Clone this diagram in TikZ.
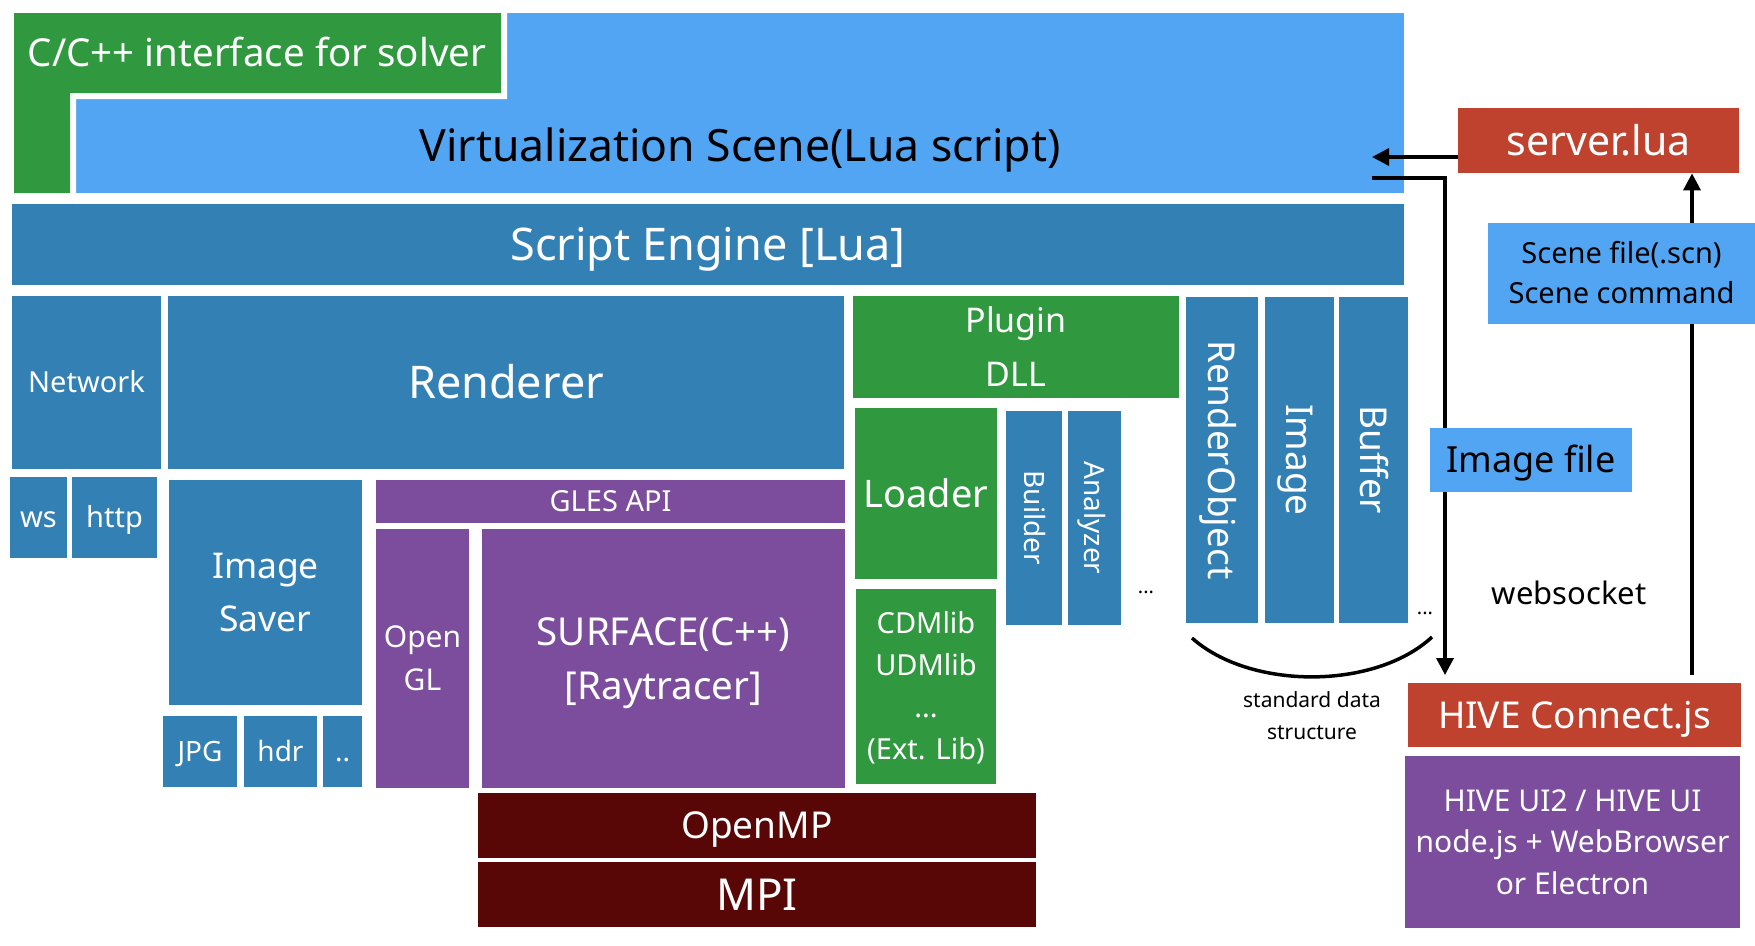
\documentclass[tikz,border=0pt]{standalone}
\usepackage{fontspec}
\setmainfont{Noto Sans}
\usetikzlibrary{arrows.meta}

\definecolor{lblue}{RGB}{82,165,242}
\definecolor{sblue}{RGB}{51,128,181}
\definecolor{lgreen}{RGB}{48,152,62}
\definecolor{lpurple}{RGB}{123,77,156}
\definecolor{dred}{RGB}{88,6,6}
\definecolor{rust}{RGB}{190,66,46}

\tikzset{every picture/.style={line width=0.75pt}}
\tikzset{
  blk/.style={inner sep=0pt, align=center, text=white, text depth=-4pt},
  fs/.style 2 args={font=\fontsize{#1}{#2}\selectfont, text height={0.714*#1pt}},
  fsm/.style n args={3}{font=\fontsize{#1}{#2}\selectfont, text height={0.714*#1pt+(#3-1)*#2pt}},
  arr/.style={line width=3.5pt, -{Triangle[length=17pt,width=17pt]}},
}

\begin{document}
\begin{tikzpicture}[x=1pt,y=1pt,yscale=-1,xscale=1]
\useasboundingbox (0,0) rectangle (1755,945);

%Shape: Rectangle [Virtualization Scene]
\node [blk, fill=lblue, minimum width=1392pt, minimum height=180pt] (vscene) at (708,103) {};
%Shape: L [C/C++ interface]
\fill [white] (8,7) -- (507,7) -- (507,99) -- (76,99) -- (76,193) -- (8,193) -- cycle;
\fill [lgreen] (14,13) -- (501,13) -- (501,93) -- (70,93) -- (70,193) -- (14,193) -- cycle;
% Text Node
\node [blk, fs={38.5}{46}] (cif) at (257,53) {C/C++ interface for solver};
% Text Node
\node [blk, text=black, fs={44.5}{53}] (vtext) at (740,146) {Virtualization Scene(Lua script)};

%Shape: Rectangle [Script Engine]
\node [blk, fill=sblue, minimum width=1392pt, minimum height=81pt, fs={45}{54}] (engine) at (708,244.5) {Script Engine [Lua]};

%Shape: Rectangle [Network]
\node [blk, fill=sblue, minimum width=149pt, minimum height=173pt, fs={29}{35}] (net) at (86.5,382.5) {Network};
\node [blk, fill=sblue, minimum width=57pt, minimum height=81pt, fs={29}{35}] (ws) at (38.5,517.5) {ws};
\node [blk, fill=sblue, minimum width=85pt, minimum height=81pt, fs={29}{35}] (http) at (114.5,517.5) {http};

%Shape: Rectangle [Renderer]
\node [blk, fill=sblue, minimum width=676pt, minimum height=173pt, fs={45}{54}] (rend) at (506,382.5) {Renderer};

%Shape: Rectangle [Image Saver]
\node [blk, fill=sblue, minimum width=193pt, minimum height=225pt, fsm={35.5}{53}{2}] (isaver) at (265.5,592.5) {Image\\Saver};
\node [blk, fill=sblue, minimum width=74pt, minimum height=71pt, fs={28}{34}] (jpg) at (200,751.5) {JPG};
\node [blk, fill=sblue, minimum width=73pt, minimum height=71pt, fs={28}{34}] (hdr) at (280.5,751.5) {hdr};
\node [blk, fill=sblue, minimum width=39pt, minimum height=71pt, fs={28}{34}] (fmore) at (342.5,751.5) {..};

%Shape: Rectangle [GLES]
\node [blk, fill=lpurple, minimum width=469pt, minimum height=43pt, fs={29}{34}] (gles) at (610.5,501.5) {GLES API};
\node [blk, fill=lpurple, minimum width=93pt, minimum height=259pt, fsm={30}{43}{2}] (ogl) at (422.5,658.5) {Open\\GL};
\node [blk, fill=lpurple, minimum width=363pt, minimum height=259pt, fsm={38.5}{54}{2}] (surf) at (663.5,658.5) {SURFACE(C++)\\{[}Raytracer{]}};

%Shape: Rectangle [Parallel]
\node [blk, fill=dred, minimum width=558pt, minimum height=65pt, fs={37}{44}] (omp) at (757,825.5) {OpenMP};
\node [blk, fill=dred, minimum width=558pt, minimum height=65pt, fs={44}{52}] (mpi) at (757,894.5) {MPI};

%Shape: Rectangle [Plugin]
\node [blk, fill=lgreen, minimum width=326pt, minimum height=102pt, fsm={34}{54}{2}] (plug) at (1016,347) {Plugin\\DLL};
\node [blk, fill=lgreen, minimum width=142pt, minimum height=171pt, fs={38}{46}] (load) at (926,493.5) {Loader};
\node [blk, fill=lgreen, minimum width=140pt, minimum height=195pt, fsm={29}{42}{4}] (extlib) at (926,686.5) {CDMlib\\UDMlib\\...\\(Ext. Lib)};
\node [blk, fill=sblue, minimum width=56pt, minimum height=214pt] (build) at (1034,518) {};
\node [blk, rotate=-90, fs={28}{33}] (buildt) at (build.center) {Builder};
\node [blk, fill=sblue, minimum width=53pt, minimum height=214pt] (anlz) at (1094.5,518) {};
\node [blk, rotate=-90, fs={28}{33}] (anlzt) at (anlz.center) {Analyzer};
\node [anchor=base, inner sep=0pt, font=\fontsize{20}{24}\selectfont] (dots1) at (1146,593) {...};

%Shape: Rectangle [Data structure]
\node [blk, fill=sblue, minimum width=72pt, minimum height=326pt] (robj) at (1222,460) {};
\node [blk, rotate=-90, fs={37}{44}] (robjt) at (robj.center) {RenderObject};
\node [blk, fill=sblue, minimum width=69pt, minimum height=326pt] (img) at (1299.5,460) {};
\node [blk, rotate=-90, fs={37}{44}] (imgt) at (img.center) {Image};
\node [blk, fill=sblue, minimum width=69pt, minimum height=326pt] (buf) at (1373.5,460) {};
\node [blk, rotate=-90, fs={37}{44}] (buft) at (buf.center) {Buffer};
\node [anchor=base, inner sep=0pt, font=\fontsize{20}{24}\selectfont] (dots2) at (1425,614) {...};
%Curve
\draw [line width=3.5pt] (1192,638) .. controls (1250,690) and (1375,690) .. (1432,637);
% Text Node
\node [blk, text=black, fsm={21}{32}{2}] (std) at (1312,716) {standard data\\structure};

%Shape: Rectangle [server.lua]
\node [blk, fill=rust, minimum width=281pt, minimum height=65pt, fs={41}{48}] (srv) at (1598.5,140.5) {server.lua};
\node [blk, fill=rust, minimum width=333pt, minimum height=64pt, fs={37}{44}] (hive) at (1574.5,715) {HIVE Connect.js};
\node [blk, fill=lpurple, minimum width=335pt, minimum height=172pt, fsm={30}{41.5}{3}] (hui) at (1572.5,842) {HIVE UI2 / HIVE UI\\node.js + WebBrowser\\or Electron};

%Straight Lines
\coordinate (vin) at (1372,157);
\coordinate (vout) at (1372,178);
\coordinate (dn) at (1445,675);
\coordinate (up) at (1692,675);
\draw [arr] (srv.west |- vin) -- (vin);
\draw [arr] (vout) -| (dn);
\draw [arr] (up) -- (up |- srv.south);

%Shape: Rectangle [Scene file]
\node [blk, fill=lblue, text=black, minimum width=267pt, minimum height=101pt, fsm={29}{40}{2}] (scn) at (1621.5,273.5) {Scene file(.scn)\\Scene command};
\node [blk, fill=lblue, text=black, minimum width=202pt, minimum height=64pt, fs={36}{44}] (imgf) at (1531,460) {Image file};
% Text Node
\node [blk, text=black, fs={31}{36}] (wsock) at (1569,593) {websocket};

\end{tikzpicture}
\end{document}
